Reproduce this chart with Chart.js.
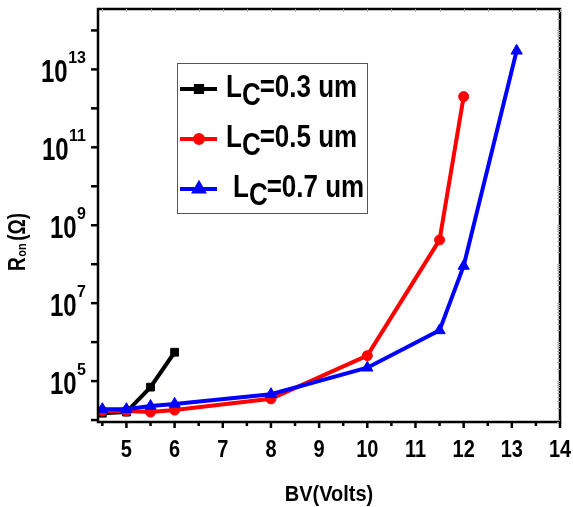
<!DOCTYPE html>
<html><head><meta charset="utf-8">
<script src="https://cdn.jsdelivr.net/npm/chart.js@4.4.0/dist/chart.umd.min.js"></script>
<style>html,body{margin:0;padding:0;background:#fff;}#wrap{width:573px;height:507px;}</style>
</head><body><div id="wrap"><canvas id="c" width="573" height="507"></canvas></div>
<script>
// ---- data ----
const bv03 = [4.5, 5, 5.5, 6];
const ron03 = [1.5e4, 1.6e4, 7e4, 5.5e5];
const bv05 = [4.5, 5, 5.5, 6, 8, 10, 11.5, 12];
const ron05 = [1.7e4, 1.7e4, 1.6e4, 1.8e4, 3.5e4, 4.5e5, 4.2e8, 2e12];
const bv07 = [4.5, 5, 5.5, 6, 8, 10, 11.5, 12, 13.1];
const ron07 = [1.9e4, 1.9e4, 2.3e4, 2.6e4, 4.6e4, 2.2e5, 2e6, 9e7, 3e13];
const legendValues = ['=0.3 um', '=0.5 um', '=0.7 um'];
const xTickValues = [5, 6, 7, 8, 9, 10, 11, 12, 13, 14];
const yLabelExponents = [5, 7, 9, 11, 13];
const yTickExponents = [4, 5, 6, 7, 8, 9, 10, 11, 12, 13, 14];
const xTitle = 'BV(Volts)';

const FONT = '"Liberation Sans", Arial, sans-serif';
function pts(xs, ys) { return xs.map((x, i) => ({ x: x, y: ys[i] })); }

function stretchText(ctx, s, x, y, size, sy, align) {
  ctx.save();
  ctx.font = 'bold ' + size + 'px ' + FONT;
  ctx.textAlign = align || 'left';
  ctx.textBaseline = 'alphabetic';
  ctx.translate(x, y);
  ctx.scale(1, sy);
  ctx.fillText(s, 0, 0);
  const w = ctx.measureText(s).width;
  ctx.restore();
  return w;
}

const decor = {
  id: 'decor',
  afterDraw(chart) {
    const ctx = chart.ctx, a = chart.chartArea;
    const xs = chart.scales.x, ys = chart.scales.y;
    ctx.save();
    ctx.fillStyle = '#000'; ctx.strokeStyle = '#000';
    // frame
    ctx.lineWidth = 2.5;
    ctx.strokeRect(a.left, a.top, a.right - a.left, a.bottom - a.top);
    // faint top / right minor ticks
    ctx.strokeStyle = '#aaa'; ctx.lineWidth = 1;
    for (let v = 4.5; v <= 14.01; v += 0.5) {
      const px = Math.round(xs.getPixelForValue(v)) + 0.5;
      ctx.beginPath(); ctx.moveTo(px, a.top); ctx.lineTo(px, a.top + 3); ctx.stroke();
    }
    for (let e = 3; e <= 14; e++) {
      for (let m = 1; m < 10; m++) {
        const v = m * Math.pow(10, e);
        if (v < ys.min || v > ys.max) continue;
        const py = Math.round(ys.getPixelForValue(v)) + 0.5;
        ctx.beginPath(); ctx.moveTo(a.right - 3, py); ctx.lineTo(a.right, py); ctx.stroke();
      }
    }
    // left ticks
    ctx.strokeStyle = '#000'; ctx.lineWidth = 2.5;
    yTickExponents.forEach(e => {
      const py = ys.getPixelForValue(Math.pow(10, e));
      ctx.beginPath(); ctx.moveTo(a.left - 7, py); ctx.lineTo(a.left, py); ctx.stroke();
    });
    // bottom ticks
    for (let v = 4.5; v <= 14.01; v += 0.5) {
      const px = xs.getPixelForValue(v);
      const major = Math.abs(v - Math.round(v)) < 1e-6;
      ctx.beginPath(); ctx.moveTo(px, a.bottom); ctx.lineTo(px, a.bottom + (major ? 6 : 4)); ctx.stroke();
    }
    // x tick labels
    ctx.fillStyle = '#000';
    xTickValues.forEach(v => {
      stretchText(ctx, String(v), xs.getPixelForValue(v), 457, 20, 1.15, 'center');
    });
    // y tick labels 10^n
    yLabelExponents.forEach(e => {
      const py = ys.getPixelForValue(Math.pow(10, e));
      const rx = 86;
      const w = stretchText(ctx, String(e), rx, py - 6, 16, 1.05, 'right');
      stretchText(ctx, '10', rx - w - 0.5, py + 13, 24, 1.3, 'right');
    });
    // x title
    stretchText(ctx, xTitle, (a.left + a.right) / 2, 501, 20, 1.1, 'center');
    // y title R_on(Ω)
    ctx.save();
    ctx.translate(25, 271);
    ctx.rotate(-Math.PI / 2);
    let cx = 0;
    cx += stretchText(ctx, 'R', cx, 0, 19, 1.3, 'left');
    cx += stretchText(ctx, 'on', cx + 0.5, 1, 11, 1.1, 'left') + 3;
    stretchText(ctx, '(Ω)', cx, 0, 19, 1.3, 'left');
    ctx.restore();
    // legend
    const lx = 177.5, ly = 63.5, lw = 190, lh = 150;
    ctx.strokeStyle = '#555'; ctx.lineWidth = 1;
    ctx.strokeRect(lx, ly, lw, lh);
    chart.data.datasets.forEach((ds, i) => {
      const rowY = 89 + i * 50;
      ctx.strokeStyle = ds.borderColor; ctx.lineWidth = 4;
      ctx.beginPath(); ctx.moveTo(180, rowY); ctx.lineTo(217, rowY); ctx.stroke();
      ctx.fillStyle = ds.borderColor;
      Chart.helpers.drawPoint(ctx, { pointStyle: ds.pointStyle, radius: ds.pointRadius * 0.8, borderWidth: 1, rotation: 0 }, 199, rowY);
      ctx.fillStyle = '#000';
      let tx = 226 + (i === 2 ? 7 : 0);
      tx += stretchText(ctx, 'L', tx, rowY + 8, 26, 1.2, 'left');
      tx += stretchText(ctx, 'C', tx, rowY + 16, 26, 1.2, 'left') - 1;
      stretchText(ctx, legendValues[i], tx, rowY + 8, 26, 1.2, 'left');
    });
    ctx.restore();
  }
};

new Chart(document.getElementById('c'), {
  type: 'line',
  data: {
    datasets: [
      { label: 'LC=0.3 um', data: pts(bv03, ron03), borderColor: '#000000', backgroundColor: '#000000',
        borderWidth: 4, pointStyle: 'rect', pointRadius: 5.5, pointBorderWidth: 1, order: 2 },
      { label: 'LC=0.5 um', data: pts(bv05, ron05), borderColor: '#ff0000', backgroundColor: '#ff0000',
        borderWidth: 4, pointStyle: 'circle', pointRadius: 5, pointBorderWidth: 1, order: 1 },
      { label: 'LC=0.7 um', data: pts(bv07, ron07), borderColor: '#0000ff', backgroundColor: '#0000ff',
        borderWidth: 4, pointStyle: 'triangle', pointRadius: 6.5, pointBorderWidth: 1, order: 0 }
    ]
  },
  options: {
    responsive: false,
    animation: false,
    layout: { padding: { top: 9, right: 13, left: 0, bottom: 0 } },
    plugins: { legend: { display: false }, tooltip: { enabled: false } },
    scales: {
      x: {
        type: 'linear', min: 4.41, max: 14,
        afterBuildTicks(s) { s.ticks = xTickValues.map(v => ({ value: v })); },
        afterFit(s) { s.height = 85; },
        ticks: { display: false },
        grid: { display: false, drawTicks: false },
        border: { display: false }
      },
      y: {
        type: 'logarithmic', min: Math.pow(10, 3.95), max: Math.pow(10, 14.55),
        afterBuildTicks(s) { s.ticks = yTickExponents.map(e => ({ value: Math.pow(10, e) })); },
        afterFit(s) { s.width = 98; },
        ticks: { display: false },
        grid: { display: false, drawTicks: false },
        border: { display: false }
      }
    }
  },
  plugins: [decor]
});
</script>
</body></html>
